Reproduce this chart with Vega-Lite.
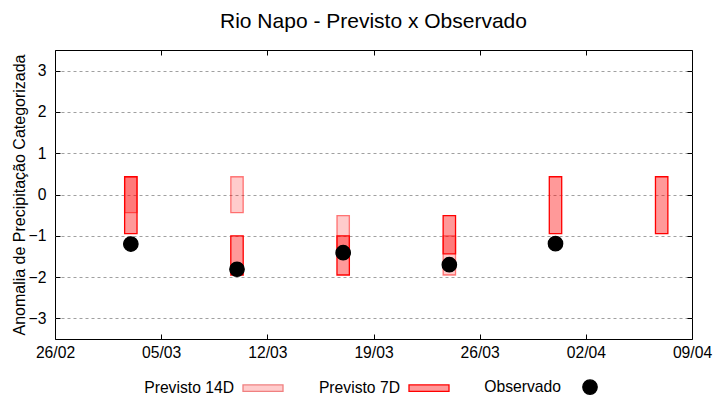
{
  "$schema": "https://vega.github.io/schema/vega-lite/v6.json",
  "width": 637,
  "height": 289,
  "autosize": {"type": "none"},
  "padding": {"left": 55, "top": 50, "right": 28, "bottom": 61},
  "background": "white",
  "title": {"text": "Rio Napo - Previsto x Observado", "font": "Liberation Sans", "fontSize": 21, "fontWeight": "normal", "color": "black", "anchor": "middle", "offset": 18},
  "config": {
    "font": "Liberation Sans",
    "view": {"stroke": "black", "strokeWidth": 1},
    "axis": {"labelColor": "black", "titleColor": "black", "tickColor": "black", "domain": false, "labelFontSize": 15.7, "titleFontSize": 16, "titleFontWeight": "normal", "labelFont": "Liberation Sans", "titleFont": "Liberation Sans"},
    "legend": {
      "orient": "none", "legendX": 187, "legendY": 316, "direction": "horizontal",
      "labelAlign": "right", "labelOffset": -50, "columnPadding": 32,
      "labelFontSize": 15.7, "labelFont": "Liberation Sans", "labelColor": "black", "symbolStrokeWidth": 1.3, "symbolOpacity": 1
    }
  },
  "datasets": {
    "p14": [
      {"date": "2023-03-03", "serie": "Previsto 14D", "min": -0.44, "max": 0.43},
      {"date": "2023-03-10", "serie": "Previsto 14D", "min": -0.44, "max": 0.43},
      {"date": "2023-03-17", "serie": "Previsto 14D", "min": -1.44, "max": -0.51},
      {"date": "2023-03-24", "serie": "Previsto 14D", "min": -1.95, "max": -1.0}
    ],
    "p7": [
      {"date": "2023-03-03", "serie": "Previsto 7D", "min": -0.95, "max": 0.43},
      {"date": "2023-03-10", "serie": "Previsto 7D", "min": -1.95, "max": -1.0},
      {"date": "2023-03-17", "serie": "Previsto 7D", "min": -1.95, "max": -1.0},
      {"date": "2023-03-24", "serie": "Previsto 7D", "min": -1.44, "max": -0.51},
      {"date": "2023-03-31", "serie": "Previsto 7D", "min": -0.95, "max": 0.43},
      {"date": "2023-04-07", "serie": "Previsto 7D", "min": -0.95, "max": 0.43}
    ],
    "obs": [
      {"date": "2023-03-03", "serie": "Observado", "valor": -1.2},
      {"date": "2023-03-10", "serie": "Observado", "valor": -1.81},
      {"date": "2023-03-17", "serie": "Observado", "valor": -1.41},
      {"date": "2023-03-24", "serie": "Observado", "valor": -1.7},
      {"date": "2023-03-31", "serie": "Observado", "valor": -1.19}
    ]
  },
  "resolve": {"axis": {"x": "independent", "y": "independent"}},
  "layer": [
    {
      "data": {"name": "p14"},
      "mark": {"type": "bar", "width": 12.4, "fill": "#ff0000", "fillOpacity": 0.2, "stroke": "#ff0000", "strokeOpacity": 0.5, "strokeWidth": 1.3},
      "encoding": {
        "x": {
          "field": "date", "type": "temporal",
          "scale": {"type": "utc", "padding": 0, "domain": [{"year": 2023, "month": 2, "date": 26, "utc": true}, {"year": 2023, "month": 4, "date": 9, "utc": true}]},
          "axis": {
            "orient": "bottom", "title": null, "format": "%d/%m", "grid": false, "tickSize": -5, "labelPadding": 11,
            "values": [
              {"year": 2023, "month": 2, "date": 26, "utc": true},
              {"year": 2023, "month": 3, "date": 5, "utc": true},
              {"year": 2023, "month": 3, "date": 12, "utc": true},
              {"year": 2023, "month": 3, "date": 19, "utc": true},
              {"year": 2023, "month": 3, "date": 26, "utc": true},
              {"year": 2023, "month": 4, "date": 2, "utc": true},
              {"year": 2023, "month": 4, "date": 9, "utc": true}
            ],
            "labelFlush": false, "labelOverlap": false
          }
        },
        "y": {
          "field": "min", "type": "quantitative",
          "scale": {"domain": [-3.5, 3.5], "nice": false, "zero": false},
          "axis": {"orient": "left", "title": "Anomalia de Precipitação Categorizada", "values": [-3, -2, -1, 0, 1, 2, 3], "grid": true, "gridColor": "#a0a0a0", "gridDash": [3, 3], "gridWidth": 1, "tickSize": -5, "labelPadding": 14, "titlePadding": 1}
        },
        "y2": {"field": "max"}
      }
    },
    {
      "data": {"name": "p7"},
      "mark": {"type": "bar", "width": 12.4, "fill": "#ff0000", "fillOpacity": 0.4, "stroke": "#ff0000", "strokeWidth": 1.3},
      "encoding": {
        "x": {"field": "date", "type": "temporal", "axis": null},
        "y": {"field": "min", "type": "quantitative", "axis": null},
        "y2": {"field": "max"}
      }
    },
    {
      "data": {"name": "obs"},
      "mark": {"type": "point", "filled": true, "opacity": 1, "strokeWidth": 1.3, "size": 1600},
      "encoding": {
        "x": {
          "field": "date", "type": "temporal",
          "axis": {
            "orient": "top", "title": null, "labels": false, "grid": false, "tickSize": -5,
            "values": [
              {"year": 2023, "month": 2, "date": 26, "utc": true},
              {"year": 2023, "month": 3, "date": 5, "utc": true},
              {"year": 2023, "month": 3, "date": 12, "utc": true},
              {"year": 2023, "month": 3, "date": 19, "utc": true},
              {"year": 2023, "month": 3, "date": 26, "utc": true},
              {"year": 2023, "month": 4, "date": 2, "utc": true},
              {"year": 2023, "month": 4, "date": 9, "utc": true}
            ]
          }
        },
        "y": {
          "field": "valor", "type": "quantitative",
          "axis": {"orient": "right", "title": null, "labels": false, "grid": false, "tickSize": -5, "values": [-3, -2, -1, 0, 1, 2, 3]}
        },
        "color": {
          "field": "serie", "type": "nominal",
          "scale": {"domain": ["Previsto 14D", "Previsto 7D", "Observado"], "range": ["#ffcccc", "#ff9999", "#000000"]},
          "legend": {"title": null, "symbolSize": 1600}
        },
        "stroke": {
          "field": "serie", "type": "nominal",
          "scale": {"domain": ["Previsto 14D", "Previsto 7D", "Observado"], "range": ["#f08080", "#ff0000", "#000000"]},
          "legend": {"title": null, "symbolSize": 1600}
        },
        "shape": {
          "field": "serie", "type": "nominal",
          "scale": {"domain": ["Previsto 14D", "Previsto 7D", "Observado"], "range": ["M-1,-0.16H1V0.16H-1Z", "M-1,-0.16H1V0.16H-1Z", "M-0.36,0A0.36,0.36,0,1,0,0.36,0A0.36,0.36,0,1,0,-0.36,0Z"]},
          "legend": {"title": null, "symbolSize": 1600}
        }
      }
    }
  ]
}
